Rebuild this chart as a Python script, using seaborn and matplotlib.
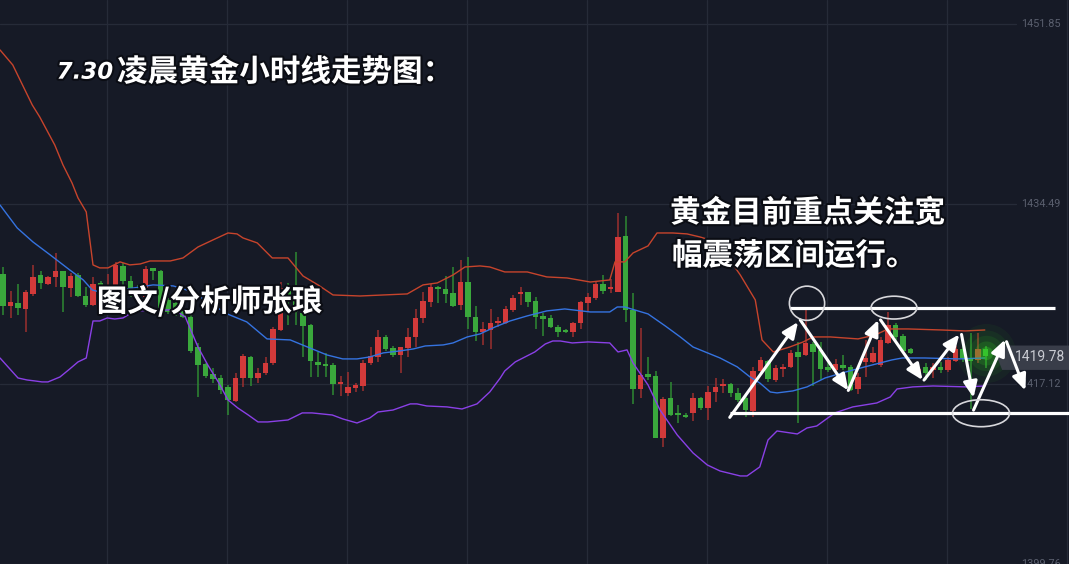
import numpy as np
import pandas as pd
import matplotlib
matplotlib.use("Agg")
import matplotlib.pyplot as plt
import matplotlib.patheffects as pe
from matplotlib.patches import Ellipse, Polygon
import matplotlib.transforms as mtransforms
import seaborn as sns

# =========================
# Data: hourly gold candles (price)
# =========================
opens = [
    1427.74, 1424.65, 1424.94, 1424.36, 1425.81, 1427.64, 1426.77, 1427.45, 1428.03, 1426.39,
    1427.64, 1425.61, 1424.75, 1426.87, 1425.23, 1426.00, 1428.51, 1427.06, 1426.29, 1425.52,
    1428.32, 1428.03, 1425.23, 1424.94, 1424.46, 1423.59, 1420.69, 1419.05, 1418.09, 1417.70,
    1416.84, 1415.48, 1417.70, 1419.73, 1417.70, 1418.19, 1419.15, 1422.33, 1426.58, 1425.71,
    1423.97, 1422.82, 1419.25, 1418.96, 1418.96, 1417.12, 1416.26, 1416.74, 1416.93, 1419.15,
    1419.73, 1421.66, 1420.60, 1419.92, 1420.60, 1421.66, 1423.49, 1425.04, 1426.48, 1426.29,
    1425.91, 1424.75, 1426.96, 1423.59, 1422.14, 1422.33, 1423.01, 1423.01, 1424.26, 1425.81,
    1426.00, 1425.13, 1423.69, 1423.49, 1422.62, 1422.24, 1422.14, 1423.01, 1424.94, 1425.42,
    1426.77, 1426.29, 1426.00, 1431.40, 1424.26, 1416.64, 1418.09, 1417.90, 1411.92, 1415.77,
    1414.33, 1414.13, 1414.33, 1415.77, 1414.81, 1416.35, 1416.93, 1417.12, 1416.26, 1415.77,
    1414.52, 1418.38, 1419.34, 1417.51, 1418.57, 1418.77, 1420.21, 1419.92, 1420.98, 1420.40,
    1418.77, 1418.47, 1418.96, 1418.77, 1416.64, 1419.25, 1419.25, 1418.96, 1421.08, 1422.82,
    1421.76, 1420.50, 1418.28, 1418.77, 1418.47, 1418.77, 1418.47, 1419.34, 1420.50, 1419.63,
    1419.44, 1420.50,
]
closes = [
    1424.65, 1425.04, 1424.46, 1426.00, 1427.45, 1426.87, 1427.45, 1428.03, 1426.48, 1427.54,
    1425.61, 1424.75, 1426.77, 1424.94, 1426.39, 1428.61, 1427.06, 1426.29, 1425.71, 1428.22,
    1428.03, 1424.07, 1424.07, 1424.17, 1423.59, 1420.31, 1418.96, 1417.90, 1417.61, 1416.54,
    1415.58, 1417.70, 1419.83, 1417.70, 1418.19, 1419.15, 1422.43, 1426.39, 1425.61, 1424.07,
    1422.72, 1419.34, 1418.96, 1418.86, 1417.12, 1417.32, 1416.84, 1417.03, 1419.15, 1419.83,
    1421.66, 1420.50, 1419.92, 1420.69, 1421.66, 1423.49, 1425.13, 1426.48, 1426.29, 1425.81,
    1424.65, 1426.96, 1423.59, 1422.14, 1422.43, 1423.01, 1423.20, 1424.36, 1425.42, 1426.00,
    1425.04, 1423.59, 1423.39, 1422.62, 1422.14, 1422.14, 1423.01, 1425.04, 1425.52, 1426.77,
    1426.10, 1426.39, 1431.31, 1424.26, 1416.64, 1417.99, 1417.80, 1411.92, 1415.68, 1414.13,
    1414.13, 1413.94, 1415.77, 1414.81, 1416.35, 1416.84, 1417.12, 1416.26, 1415.58, 1414.61,
    1418.38, 1419.44, 1417.61, 1418.67, 1418.77, 1420.12, 1419.73, 1421.08, 1420.21, 1418.57,
    1418.47, 1419.05, 1418.67, 1416.54, 1417.80, 1419.63, 1420.12, 1421.37, 1422.82, 1421.66,
    1420.31, 1420.12, 1418.57, 1418.19, 1418.77, 1418.47, 1419.44, 1420.50, 1419.63, 1419.34,
    1420.50, 1419.78,
]
highs = [
    1428.41, 1426.10, 1426.77, 1426.19, 1428.61, 1428.03, 1427.54, 1429.76, 1428.03, 1427.83,
    1427.83, 1426.48, 1427.45, 1427.06, 1427.74, 1428.90, 1428.80, 1427.54, 1426.68, 1428.51,
    1428.32, 1428.12, 1425.42, 1425.23, 1424.75, 1423.78, 1421.08, 1419.15, 1418.67, 1417.99,
    1417.03, 1418.19, 1420.02, 1419.83, 1418.67, 1419.73, 1422.62, 1426.96, 1426.87, 1429.86,
    1424.26, 1422.91, 1420.21, 1420.12, 1419.15, 1417.90, 1418.28, 1417.22, 1419.44, 1420.69,
    1422.33, 1421.85, 1420.79, 1420.69, 1422.53, 1424.36, 1426.00, 1426.77, 1426.58, 1427.54,
    1428.41, 1429.09, 1429.38, 1424.65, 1423.11, 1424.36, 1423.59, 1424.65, 1425.71, 1426.48,
    1426.00, 1425.52, 1423.97, 1423.78, 1422.82, 1422.43, 1423.11, 1425.13, 1425.91, 1426.96,
    1427.64, 1427.25, 1433.62, 1433.33, 1425.91, 1422.53, 1419.73, 1418.38, 1415.87, 1417.32,
    1415.10, 1414.33, 1416.26, 1415.87, 1416.93, 1417.70, 1417.61, 1417.22, 1416.74, 1415.97,
    1418.77, 1419.73, 1419.44, 1418.96, 1419.05, 1420.40, 1421.18, 1424.55, 1421.18, 1421.18,
    1419.25, 1419.54, 1419.92, 1418.96, 1418.19, 1421.37, 1420.69, 1421.66, 1424.07, 1423.01,
    1421.95, 1420.60, 1418.96, 1419.15, 1419.15, 1419.25, 1419.73, 1420.79, 1420.79, 1422.05,
    1422.05, 1420.79,
]
lows = [
    1423.78, 1423.49, 1423.78, 1422.14, 1425.61, 1426.29, 1426.68, 1426.48, 1424.07, 1425.52,
    1425.52, 1424.55, 1424.65, 1424.75, 1425.04, 1425.71, 1424.46, 1425.52, 1425.42, 1425.23,
    1427.16, 1423.78, 1423.88, 1423.69, 1423.49, 1420.12, 1415.87, 1417.70, 1417.22, 1416.16,
    1414.13, 1415.39, 1416.84, 1416.93, 1417.22, 1417.99, 1418.96, 1422.24, 1422.82, 1422.82,
    1419.73, 1417.80, 1417.80, 1417.80, 1416.06, 1415.97, 1415.97, 1416.35, 1416.45, 1418.96,
    1419.25, 1420.31, 1419.73, 1418.19, 1419.73, 1420.69, 1423.01, 1424.55, 1424.94, 1424.94,
    1424.55, 1424.26, 1422.43, 1421.27, 1420.89, 1420.50, 1422.62, 1422.91, 1424.07, 1424.75,
    1424.55, 1422.43, 1421.76, 1422.53, 1421.66, 1422.05, 1421.66, 1422.43, 1424.17, 1425.23,
    1425.81, 1425.91, 1426.00, 1423.11, 1415.20, 1415.77, 1417.51, 1411.92, 1411.05, 1414.04,
    1413.36, 1413.84, 1413.56, 1414.61, 1413.65, 1415.39, 1416.26, 1415.87, 1415.39, 1413.94,
    1413.94, 1418.19, 1417.32, 1417.32, 1417.80, 1418.67, 1413.36, 1419.83, 1416.93, 1417.51,
    1418.28, 1418.19, 1418.47, 1416.45, 1416.16, 1417.80, 1419.15, 1418.77, 1420.98, 1421.37,
    1420.21, 1420.02, 1417.99, 1417.51, 1417.70, 1418.19, 1418.28, 1419.25, 1419.25, 1414.71,
    1419.15, 1418.67,
]

# Bollinger bands at their bends (x = candle index)
upper_x = [-0.4, 1.3, 3.9, 4.9, 6.9, 8.0, 9.2, 10.0, 11.1, 12.0, 12.9, 14.0, 15.6, 16.9, 18.3,
           19.6, 22.3, 24.0, 26.0, 28.0, 30.0, 31.2, 32.0, 33.9, 35.9, 38.0, 40.0, 42.0, 44.0,
           47.6, 53.9, 56.0, 57.9, 60.0, 61.6, 63.6, 64.9, 66.9, 69.9, 72.5, 75.2, 78.3, 79.6,
           80.9, 81.6, 82.9, 84.0, 86.0, 87.2, 89.3, 91.2, 92.9, 94.7, 96.9, 98.3, 100.3, 101.2,
           102.7, 104.9, 106.7, 108.0, 110.3, 114.0, 116.3, 118.0, 120.7, 125.2, 128.3, 130.9]
upper_y = [1449.35, 1447.90, 1444.04, 1442.88, 1440.18, 1438.25, 1436.52, 1435.07, 1433.72,
           1428.61, 1428.32, 1428.32, 1428.90, 1428.61, 1428.70, 1428.99, 1428.99, 1429.28,
           1430.34, 1431.02, 1431.69, 1431.60, 1431.21, 1430.73, 1429.28, 1429.28, 1427.54,
           1426.68, 1425.71, 1425.61, 1425.81, 1426.68, 1426.87, 1427.64, 1428.41, 1428.51,
           1428.41, 1427.93, 1427.93, 1427.45, 1427.35, 1426.96, 1427.06, 1427.16, 1428.90,
           1428.90, 1429.76, 1430.44, 1431.69, 1431.69, 1431.60, 1431.31, 1430.92, 1429.09,
           1427.64, 1425.23, 1421.37, 1420.21, 1420.69, 1421.18, 1421.66, 1421.66, 1421.47,
           1421.85, 1422.43, 1422.43, 1422.33, 1422.24, 1422.33]
mid_x = [-0.4, 1.9, 4.0, 6.3, 8.9, 10.7, 11.9, 12.9, 15.6, 18.3, 20.0, 22.7, 24.5, 26.3, 29.9,
         32.5, 35.2, 38.3, 40.9, 43.2, 45.3, 47.2, 48.9, 50.7, 52.9, 54.7, 56.3, 58.7, 60.0, 61.9,
         63.6, 65.6, 67.6, 69.9, 72.5, 74.9, 78.3, 80.9, 81.9, 82.9, 86.0, 88.3, 90.3, 92.0, 95.6,
         97.9, 99.6, 100.9, 102.3, 103.2, 105.3, 107.2, 109.6, 111.9, 114.9, 118.5, 119.9, 122.9,
         127.3, 130.9]
mid_y = [1434.39, 1432.17, 1430.82, 1429.57, 1428.12, 1427.16, 1426.19, 1426.00, 1426.19, 1426.48,
         1426.68, 1426.58, 1426.19, 1425.52, 1423.88, 1423.11, 1421.47, 1421.37, 1420.60, 1419.92,
         1419.54, 1419.54, 1419.73, 1420.12, 1420.31, 1420.50, 1420.79, 1420.89, 1421.08, 1421.66,
         1421.95, 1422.62, 1423.20, 1423.69, 1424.17, 1424.36, 1424.07, 1424.07, 1424.55, 1424.55,
         1423.88, 1422.72, 1421.66, 1420.69, 1419.63, 1418.77, 1417.80, 1417.22, 1416.35, 1416.26,
         1416.45, 1416.84, 1417.70, 1418.19, 1418.77, 1419.44, 1419.63, 1419.63, 1419.54, 1419.63]
lower_x = [-0.4, 2.0, 3.2, 4.3, 5.2, 6.0, 7.6, 8.9, 10.0, 11.1, 12.0, 12.9, 13.9, 14.9, 16.0,
           16.9, 18.3, 20.0, 22.3, 23.3, 24.3, 25.2, 26.0, 27.3, 28.7, 30.0, 31.3, 32.7, 34.0,
           35.3, 38.0, 39.9, 41.2, 43.9, 45.3, 47.2, 48.9, 50.0, 52.0, 54.3, 55.2, 56.5, 59.2,
           61.2, 63.2, 64.9, 66.3, 66.9, 68.3, 69.6, 70.9, 72.3, 73.3, 74.3, 75.9, 78.0, 80.9,
           82.0, 83.2, 84.0, 86.0, 87.6, 89.9, 92.0, 93.9, 95.6, 98.3, 99.2, 100.9, 102.0, 103.2,
           105.9, 107.2, 108.5, 110.9, 113.3, 116.5, 118.3, 119.2, 121.3, 124.0, 128.5, 130.9]
lower_y = [1419.63, 1417.70, 1417.51, 1417.41, 1417.32, 1417.32, 1417.80, 1418.57, 1419.25,
           1419.63, 1423.20, 1423.20, 1423.49, 1423.39, 1423.49, 1423.88, 1424.17, 1424.26,
           1424.26, 1424.07, 1423.59, 1422.05, 1420.69, 1418.96, 1417.32, 1415.58, 1414.81,
           1414.13, 1413.46, 1413.46, 1413.65, 1414.33, 1414.33, 1414.13, 1413.75, 1413.36,
           1413.84, 1414.42, 1414.61, 1415.20, 1415.20, 1415.00, 1414.91, 1414.71, 1415.20,
           1416.35, 1417.70, 1418.38, 1419.25, 1419.73, 1420.21, 1420.98, 1421.27, 1421.27,
           1421.08, 1421.18, 1421.08, 1420.21, 1420.41, 1419.15, 1417.03, 1414.61, 1412.20,
           1410.47, 1409.31, 1408.73, 1408.25, 1408.25, 1409.12, 1411.72, 1412.59, 1412.30,
           1412.88, 1413.07, 1414.33, 1414.91, 1415.29, 1415.87, 1416.64, 1416.84, 1416.93,
           1416.84, 1416.93]

price_ticks = [1451.85, 1434.49, 1417.12, 1399.76]
last_price = "1419.78"

# hand-drawn annotations (candle index, price)
range_top = 1424.49
range_bottom = 1414.30
zigzag = [
    ((96.9, 1413.9), (106.0, 1423.1)),
    ((106.3, 1423.3), (112.7, 1416.5)),
    ((112.7, 1416.5), (116.7, 1423.3)),
    ((117.0, 1423.3), (122.6, 1417.5)),
    ((122.8, 1417.5), (127.5, 1421.9)),
    ((127.8, 1421.9), (129.4, 1415.8)),
    ((129.4, 1414.6), (133.6, 1421.4)),
    ((133.8, 1421.2), (136.3, 1416.5)),
]
circles = [  # center x, center y, width, height
    (107.2, 1424.91, 4.7, 3.3),
    (118.8, 1424.49, 6.1, 2.2),
    (130.4, 1414.30, 7.6, 2.6),
]

title_num = "7.30"
title_txt = "凌晨黄金小时线走势图："
author_txt = "图文/分析师张琅"
note_line1 = "黄金目前重点关注宽"
note_line2 = "幅震荡区间运行。"

# =========================
# Style
# =========================
BG = "#161a26"
GRID = "#262b38"
UP_BODY, UP_WICK = "#d23a3a", "#9c2f2f"
DN_BODY, DN_WICK = "#3aa83c", "#2e8a33"

sns.set_theme(style="dark", rc={
    "axes.facecolor": BG,
    "figure.facecolor": BG,
    "axes.grid": False,
})
plt.rcParams["font.family"] = ["Noto Sans CJK SC", "DejaVu Sans"]

df = pd.DataFrame({"open": opens, "high": highs, "low": lows, "close": closes})
df["idx"] = np.arange(len(df))
df["up"] = df["close"] >= df["open"]

fig = plt.figure(figsize=(10.69, 5.64), dpi=100)
ax = fig.add_axes([0, 0, 1, 1])
ax.set_xlim(-0.4, 142.13)
ax.set_ylim(1399.755, 1454.165)
ax.set_axis_off()
ax.add_patch(plt.Rectangle((0, 0), 1, 1, transform=ax.transAxes, color=BG, zorder=0))

bt = mtransforms.blended_transform_factory(ax.transAxes, ax.transData)

# grid
for k in range(9):
    ax.axvline(13.87 + 16 * k, color=GRID, lw=0.9, zorder=1)
for p in price_ticks:
    ax.axhline(p, xmin=0, xmax=0.9505, color=GRID, lw=0.9, zorder=1)
    ax.text(0.955, p, f"{p:.2f}", transform=bt, ha="left", va="center", fontsize=7.8,
            color="#5a5f6e", family="Roboto", zorder=2, clip_on=True)

# candles
wick_cols = np.where(df["up"], UP_WICK, DN_WICK)
body_cols = np.where(df["up"], UP_BODY, DN_BODY)
body_lo = np.minimum(df["open"], df["close"])
body_h = np.maximum((df["close"] - df["open"]).abs(), 0.2)
ax.vlines(df["idx"], df["low"], df["high"], colors=wick_cols, lw=1.1, zorder=3)
ax.bar(df["idx"], body_h, bottom=body_lo, width=0.68, color=body_cols, linewidth=0, zorder=4)

# Bollinger bands
sns.lineplot(x=upper_x, y=upper_y, ax=ax, color="#c7442c", lw=1.0, zorder=5, estimator=None)
sns.lineplot(x=mid_x, y=mid_y, ax=ax, color="#3573e0", lw=1.0, zorder=5, estimator=None)
sns.lineplot(x=lower_x, y=lower_y, ax=ax, color="#8a40e6", lw=1.0, zorder=5, estimator=None)

# glow on the live candle
last_i = df["idx"].iloc[-1]
mid_last = (df["open"].iloc[-1] + df["close"].iloc[-1]) / 2
for s, a in [(1800, 0.05), (1100, 0.07), (650, 0.1), (300, 0.16), (90, 0.3)]:
    ax.scatter([last_i], [mid_last], s=s, color="#33dd22", alpha=a, linewidths=0, zorder=6)

# last price tag
lp = float(last_price)
tag = Polygon([(0.9375, lp + 1.05), (0.9325, lp), (0.9375, lp - 1.3), (1.0, lp - 1.3), (1.0, lp + 1.05)],
              closed=True, transform=bt, facecolor="#3c404c", edgecolor="none", alpha=0.95, zorder=7)
ax.add_patch(tag)
ax.text(0.9495, lp - 0.1, last_price, transform=bt, ha="left", va="center", fontsize=10,
        color="#c9cbd2", family="Roboto", zorder=8)

# annotations: range lines, zigzag arrows, circles
ax.plot([104.9, 140.3], [range_top, range_top], color="white", lw=2.3, zorder=9, solid_capstyle="butt")
ax.plot([96.9, 142.2], [range_bottom, range_bottom], color="white", lw=2.3, zorder=9, solid_capstyle="butt")
for (x0, y0), (x1, y1) in zigzag:
    ax.annotate("", xy=(x1, y1), xytext=(x0, y0),
                arrowprops=dict(arrowstyle="-|>,head_length=0.8,head_width=0.35", color="white",
                                lw=2.2, shrinkA=0, shrinkB=0), zorder=10)
for cx, cy, w, h in circles:
    ax.add_patch(Ellipse((cx, cy), w, h, fill=False, edgecolor="#d8d8dc", lw=1.2, zorder=10))

# texts
stroke = [pe.withStroke(linewidth=3, foreground="#0b0d14")]
ax.text(0.053, 0.872, title_num, transform=ax.transAxes, ha="left", va="center", fontsize=16.5,
        color="white", family="DejaVu Sans", style="italic", weight="bold", path_effects=stroke, zorder=11)
ax.text(0.1095, 0.872, title_txt, transform=ax.transAxes, ha="left", va="center", fontsize=22,
        color="white", weight="bold", path_effects=stroke, zorder=11)
ax.text(0.0905, 0.4645, author_txt, transform=ax.transAxes, ha="left", va="center", fontsize=22,
        color="white", weight="bold", path_effects=stroke, zorder=11)
ax.text(0.6268, 0.6223, note_line1, transform=ax.transAxes, ha="left", va="center", fontsize=22,
        color="white", weight="bold", path_effects=stroke, zorder=11)
ax.text(0.6286, 0.5461, note_line2, transform=ax.transAxes, ha="left", va="center", fontsize=22,
        color="white", weight="bold", path_effects=stroke, zorder=11)

fig.savefig("out.png", dpi=100, facecolor=BG)
